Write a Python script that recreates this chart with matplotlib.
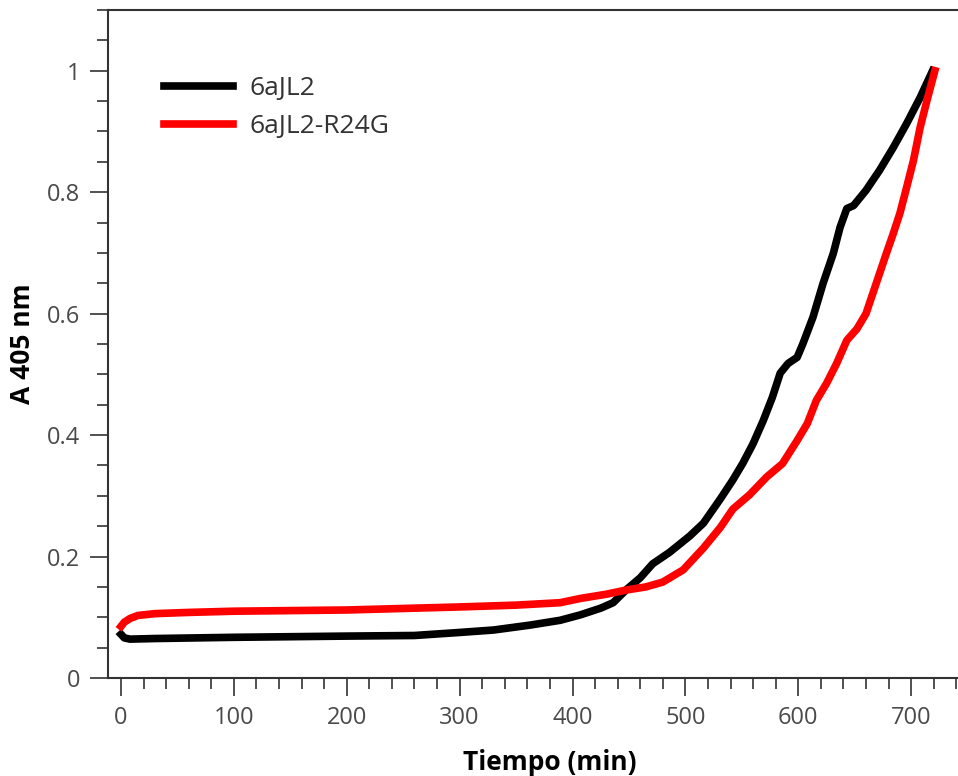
import matplotlib
matplotlib.use("Agg")
import matplotlib.pyplot as plt
from matplotlib.ticker import MultipleLocator

# 6aJL2 (black)
t_wt = [0, 3, 8, 30, 100, 200, 260, 300, 330, 362, 389, 407, 425, 436,
        448, 460, 471, 486, 504, 516, 531, 542, 551, 560, 569, 577, 584,
        591, 599, 604, 613, 622, 631, 637, 643, 649, 660, 672, 684, 696,
        708, 719]
a_wt = [0.072, 0.066, 0.064, 0.065, 0.067, 0.069, 0.070, 0.075, 0.079,
        0.087, 0.095, 0.104, 0.115, 0.124, 0.146, 0.165, 0.188, 0.207,
        0.234, 0.255, 0.295, 0.326, 0.354, 0.386, 0.424, 0.462, 0.502,
        0.518, 0.528, 0.550, 0.594, 0.650, 0.699, 0.742, 0.773, 0.778,
        0.803, 0.836, 0.873, 0.913, 0.956, 1.0]

# 6aJL2-R24G (red)
t_mut = [0, 3, 8, 15, 30, 60, 100, 200, 300, 350, 389, 407, 430, 448,
         465, 480, 498, 516, 531, 542, 557, 572, 586, 599, 608, 616, 625,
         634, 643, 652, 660, 666, 672, 678, 684, 690, 696, 702, 708, 714,
         721]
a_mut = [0.085, 0.092, 0.098, 0.103, 0.106, 0.108, 0.110, 0.112, 0.117,
         0.120, 0.124, 0.131, 0.138, 0.145, 0.150, 0.158, 0.178, 0.214,
         0.248, 0.278, 0.302, 0.331, 0.353, 0.391, 0.419, 0.457, 0.485,
         0.518, 0.556, 0.575, 0.600, 0.633, 0.666, 0.699, 0.731, 0.765,
         0.808, 0.852, 0.907, 0.951, 1.0]

plt.rcParams['font.family'] = ['Open Sans', 'DejaVu Sans']

fig = plt.figure(figsize=(9.58, 7.76), dpi=100)
ax = fig.add_axes([108 / 958, 1 - 678 / 776, 1 - 108 / 958, (678 - 10) / 776])

ax.plot(t_wt, a_wt, color='black', lw=5.5, label='6aJL2')
ax.plot(t_mut, a_mut, color='#ff0000', lw=5.5, label='6aJL2-R24G')

ax.set_xlim(-11.5, 741.5)
ax.set_ylim(0, 1.1)

ax.xaxis.set_major_locator(MultipleLocator(100))
ax.xaxis.set_minor_locator(MultipleLocator(20))
ax.yaxis.set_minor_locator(MultipleLocator(0.05))
ax.set_yticks([0, 0.2, 0.4, 0.6, 0.8, 1.0])
ax.set_yticklabels(['0', '0.2', '0.4', '0.6', '0.8', '1'])

for side in ['left', 'bottom', 'top']:
    ax.spines[side].set_color('#333333')
    ax.spines[side].set_linewidth(1.5)
ax.spines['right'].set_visible(False)

ax.tick_params(which='major', length=13, width=1.2, color='#333333',
               labelsize=17, labelcolor='#4a4a4a', pad=7)
ax.tick_params(which='minor', length=8, width=1.2, color='#333333')
ax.tick_params(axis='x', which='major', pad=7)

ax.set_xlabel('Tiempo (min)', fontsize=19, fontweight='bold')
ax.xaxis.set_label_coords((550 - 108) / 850, -(762 - 678) / 668, transform=ax.transAxes)
ax.xaxis.label.set_va('center')
ax.set_ylabel('A 405 nm', fontsize=19, fontweight='bold', labelpad=8)

leg = ax.legend(loc='upper left', bbox_to_anchor=(164 / 958, 1 - 76 / 776),
                bbox_transform=fig.transFigure, frameon=False, fontsize=19,
                handlelength=2.6, handletextpad=0.65, labelspacing=0.5,
                borderpad=0, borderaxespad=0)
for txt in leg.get_texts():
    txt.set_color('#333333')

fig.savefig('out.png', dpi=100)
